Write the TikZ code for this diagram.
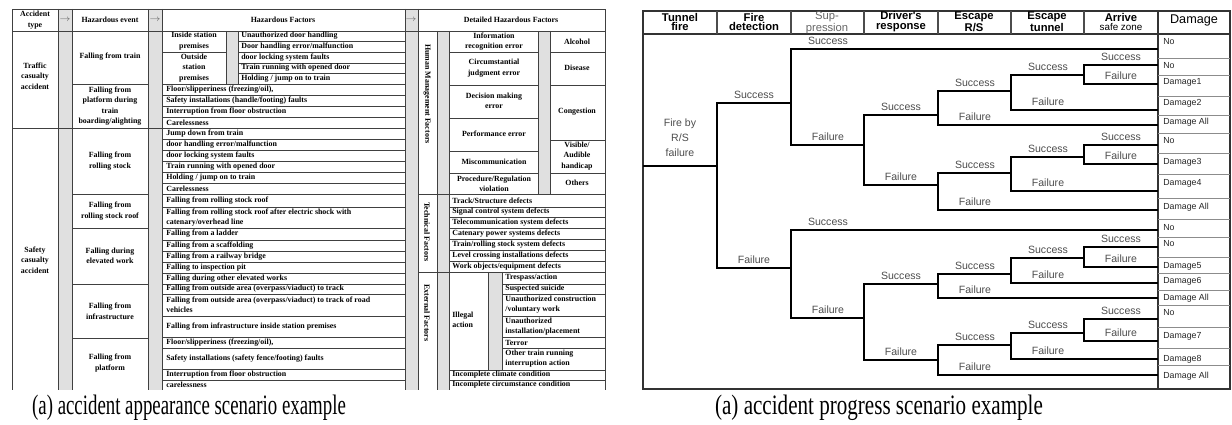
\documentclass[tikz,border=0pt]{standalone}
\usepackage{fontspec}
\setmainfont{Liberation Serif}
\newfontfamily\treefont{Liberation Sans}

\tikzset{
  tcell/.style={font=\bfseries\fontsize{4.5}{6}\selectfont, align=center, inner sep=0pt},
  titem/.style={font=\bfseries\fontsize{4.5}{5.6}\selectfont, align=left, anchor=west, inner sep=0pt},
  tline/.style={draw=black!75, line width=0.35pt},
  tshade/.style={fill=black!12},
  tarrow/.style={font=\fontsize{4.5}{5}\selectfont, text=black!55, inner sep=0pt},
  branch/.style={line width=1.4pt},
  elbl/.style={font=\treefont\fontsize{6}{7}\selectfont, text=black!70, inner sep=0pt},
  ehead/.style={font=\treefont\bfseries\fontsize{6.4}{5.6}\selectfont, align=center, inner sep=0pt},
  dmg/.style={font=\treefont\fontsize{5}{6}\selectfont, text=black!85, anchor=west, inner sep=0pt},
  capt/.style={font=\fontsize{16}{18}\selectfont, inner sep=0pt},
}

% one fork of the event tree: name, x, y success, y failure, end success, end failure
\newcommand{\fork}[6]{%
  \draw[branch] (#5,#3) -- (#2,#3) -- (#2,#4) -- (#6,#4);
  \node[elbl] (#1s) at (#2+37,#3-8) {Success};
  \node[elbl] (#1f) at (#2+37,#4-8) {Failure};
}

\begin{document}
\begin{tikzpicture}[x=0.02cm, y=-0.02cm]
  \useasboundingbox (0,0) rectangle (1232,425);

  % ---- (a) accident appearance scenario: table
  \foreach \xa/\ya/\xb/\yb in {58/9/72/390, 148/9/162/390, 405/9/418/390, 437/31/449/390,
      226/31/238/84, 538/31/550/194, 488/272/502/370}
    \fill[tshade] (\xa,\ya) rectangle (\xb,\yb);
  \draw[tline] (12,390) -- (12,9) -- (605,9) -- (605,390);
  \draw[tline] (12,31) -- (605,31);
  \foreach \x in {58,72,148,162,405,418}
    \draw[tline] (\x,9) -- (\x,390);
  \foreach \x/\ya/\yb in {437/31/390, 449/31/390, 226/31/84, 238/31/84,
      538/31/194, 550/31/194, 488/272/370, 502/272/370}
    \draw[tline] (\x,\ya) -- (\x,\yb);
  \draw[tline] (12,128) -- (162,128);
  \foreach \y in {84,194,228,284,338}
    \draw[tline] (72,\y) -- (148,\y);
  \draw[tline] (162,52) -- (226,52);
  \foreach \y in {41,52,63,73}
    \draw[tline] (238,\y) -- (405,\y);
  \foreach \y in {84,95,106,117,128,139,150,161,172,183,194,207,228,240,251,262,273,284,294,316,337,348,369,380}
    \draw[tline] (162,\y) -- (405,\y);
  \foreach \y in {52,85,118,151,173}
    \draw[tline] (449,\y) -- (538,\y);
  \foreach \y in {52,85,140,173}
    \draw[tline] (550,\y) -- (605,\y);
  \foreach \y in {194,272}
    \draw[tline] (418,\y) -- (605,\y);
  \foreach \y in {207,217,228,239,250,261}
    \draw[tline] (449,\y) -- (605,\y);
  \foreach \y in {284,294,316,337,348}
    \draw[tline] (502,\y) -- (605,\y);
  \foreach \y in {370,380}
    \draw[tline] (449,\y) -- (605,\y);

  % headers
  \node[tcell] (hdtype) at (35,20) {Accident\\type};
  \node[tarrow] (arr1) at (65,20) {$\rightarrow$};
  \node[tcell] (hdevent) at (110,20) {Hazardous event};
  \node[tarrow] (arr2) at (155,20) {$\rightarrow$};
  \node[tcell] (hdfactor) at (283,20) {Hazardous Factors};
  \node[tarrow] (arr3) at (411,20) {$\rightarrow$};
  \node[tcell] (hddetail) at (511,20) {Detailed Hazardous Factors};

  % accident types and hazardous events
  \node[tcell] (traffic) at (35,76) {Traffic\\casualty\\accident};
  \node[tcell] (safety) at (35,260) {Safety\\casualty\\accident};
  \foreach \y/\t [count=\i] in {57/{Falling from train},
      106/{Falling from\\platform during\\train\\boarding/alighting},
      161/{Falling from\\rolling stock}, 211/{Falling from\\rolling stock roof},
      256/{Falling during\\elevated  work}, 311/{Falling from\\infrastructure},
      363/{Falling from\\platform}}
    \node[tcell] (ev\i) at (110,\y) {\t};

  % hazardous factors
  \node[tcell] (inside) at (194,41) {Inside station\\premises};
  \node[tcell] (outside) at (194,68) {Outside\\station\\premises};
  \foreach \y/\t [count=\i] in {36/{Unauthorized door handling}, 46.5/{Door handling error/malfunction},
      57.5/{door locking system faults}, 68/{Train running with opened door},
      78.5/{Holding / jump on to train}}
    \node[titem] (hfa\i) at (241,\y) {\t};
  \foreach \y/\t [count=\i] in {89.5/{Floor/slipperiness (freezing/oil),},
      100.5/{Safety installations (handle/footing) faults},
      111.5/{Interruption from floor obstruction}, 122.5/{Carelessness},
      133.5/{Jump down from train}, 144.5/{door handling error/malfunction},
      155.5/{door locking system faults}, 166.5/{Train running with opened door},
      177.5/{Holding / jump on to train}, 188.5/{Carelessness},
      201/{Falling from rolling stock roof},
      217.5/{Falling from rolling  stock roof after electric shock with\\catenary/overhead line},
      234/{Falling from a ladder}, 245.5/{Falling from a scaffolding},
      256.5/{Falling from a railway bridge}, 267.5/{Falling to inspection pit},
      278.5/{Falling during other elevated works},
      289/{Falling from outside area (overpass/viaduct) to track},
      305/{Falling from outside area (overpass/viaduct) to track of road\\vehicles},
      326.5/{Falling from infrastructure inside station premises},
      342.5/{Floor/slipperiness (freezing/oil),},
      358.5/{Safety installations (safety fence/footing) faults},
      374.5/{Interruption from floor obstruction}, 385/{carelessness}}
    \node[titem] (hfb\i) at (166,\y) {\t};

  % detailed hazardous factors
  \node[tcell, rotate=-90] (human) at (427,94) {Human Management Factors};
  \node[tcell, rotate=-90] (technical) at (427,232) {Technical Factors};
  \node[tcell, rotate=-90] (external) at (427,313) {External Factors};
  \foreach \y/\t [count=\i] in {41.5/{Information\\recognition error},
      68/{Circumstantial\\judgment error}, 101/{Decision making\\error},
      134/{Performance error}, 162/{Miscommunication},
      184/{Procedure/Regulation\\violation}}
    \node[tcell] (hm\i) at (494,\y) {\t};
  \foreach \y/\t [count=\i] in {41.5/{Alcohol}, 68/{Disease}, 112/{Congestion},
      156/{Visible/\\Audible\\handicap}, 183/{Others}}
    \node[tcell] (hc\i) at (577,\y) {\t};
  \foreach \y/\t [count=\i] in {200.5/{Track/Structure defects},
      212/{Signal control system defects}, 222.5/{Telecommunication system defects},
      233.5/{Catenary power systems defects}, 244.5/{Train/rolling stock system defects},
      255.5/{Level crossing installations defects}, 266.5/{Work objects/equipment defects},
      375/{Incomplete climate condition}, 385/{Incomplete circumstance condition}}
    \node[titem] (tf\i) at (452,\y) {\t};
  \node[titem] (illegal) at (452,320) {Illegal\\action};
  \foreach \y/\t [count=\i] in {278/{Trespass/action}, 289/{Suspected suicide},
      305/{Unauthorized construction\\/voluntary work},
      326.5/{Unauthorized\\installation/placement}, 342.5/{Terror},
      359/{Other train running\\interruption action}}
    \node[titem] (ia\i) at (505,\y) {\t};

  % ---- (a) accident progress scenario: event tree
  \draw[line width=0.9pt, draw=black!80] (643,11) rectangle (1230,389);
  \draw[line width=0.7pt, draw=black!80] (643,34) -- (1230,34);
  \foreach \x in {717,791,864,938,1011,1084}
    \draw[line width=0.6pt, draw=black!70] (\x,11) -- (\x,34);
  \draw[line width=0.7pt, draw=black!80] (1158,11) -- (1158,389);

  \node[ehead] (htunnel) at (680,22) {Tunnel\\fire};
  \node[ehead] (hdetect) at (754,22) {Fire\\detection};
  \node[ehead, font=\treefont\fontsize{6.4}{5.6}\selectfont, text=black!60] (hsupp) at (827,23) {Sup-\\pression};
  \node[ehead] (hdriver) at (901,22) {Driver's\\response};
  \node[ehead] (hescrs) at (974,22) {Escape\\R/S};
  \node[ehead] (hesctun) at (1047,22) {Escape\\tunnel};
  \node[ehead] (harrive) at (1121,22) {Arrive\\{\mdseries\fontsize{5.6}{5.6}\selectfont safe zone}};
  \node[ehead, font=\treefont\fontsize{7.2}{8}\selectfont] (hdamage) at (1194,20) {Damage};

  \node[elbl, align=center, font=\treefont\fontsize{6}{8.5}\selectfont] (init) at (680,138) {Fire by\\R/S\\failure};
  \draw[branch] (643,166) -- (717,166);
  \fork{fd}{717}{103}{268}{791}{791}
  \fork{spa}{791}{49}{145}{1158}{864}
  \fork{dra}{864}{115}{185}{938}{938}
  \fork{era}{938}{91}{125}{1011}{1158}
  \fork{eta}{1011}{75}{110}{1084}{1158}
  \fork{asa}{1084}{65}{84}{1158}{1158}
  \fork{erb}{938}{173}{210}{1011}{1158}
  \fork{etb}{1011}{157}{191}{1084}{1158}
  \fork{asb}{1084}{145}{164}{1158}{1158}
  \fork{spb}{791}{230}{318}{1158}{864}
  \fork{drb}{864}{284}{360}{938}{938}
  \fork{erc}{938}{274}{298}{1011}{1158}
  \fork{etc}{1011}{258}{283}{1084}{1158}
  \fork{asc}{1084}{247}{267}{1158}{1158}
  \fork{erd}{938}{345}{375}{1011}{1158}
  \fork{etd}{1011}{333}{359}{1084}{1158}
  \fork{asd}{1084}{319}{341}{1158}{1158}

  \foreach \y in {58,75,96,115,133,153,174,198,219,237,257,273,290,305,327,348,365}
    \draw[black!45, line width=0.4pt] (1158,\y) -- (1230,\y);
  \foreach \y/\t [count=\i] in {42/No, 66/No, 82/Damage1, 103/Damage2, 122/Damage All,
      141/No, 162/Damage3, 183/Damage4, 207/Damage All, 228/No, 244/No, 266/Damage5,
      281/Damage6, 298/Damage All, 313/No, 336/Damage7, 359/Damage8, 376/Damage All}
    \node[dmg] (dm\i) at (1163,\y) {\t};

  % captions
  \node[capt] (cap1) at (189,408) {\scalebox{0.67}[1]{(a) accident appearance scenario example}};
  \node[capt] (cap2) at (879,408) {\scalebox{0.75}[1]{(a) accident progress scenario example}};
\end{tikzpicture}
\end{document}
